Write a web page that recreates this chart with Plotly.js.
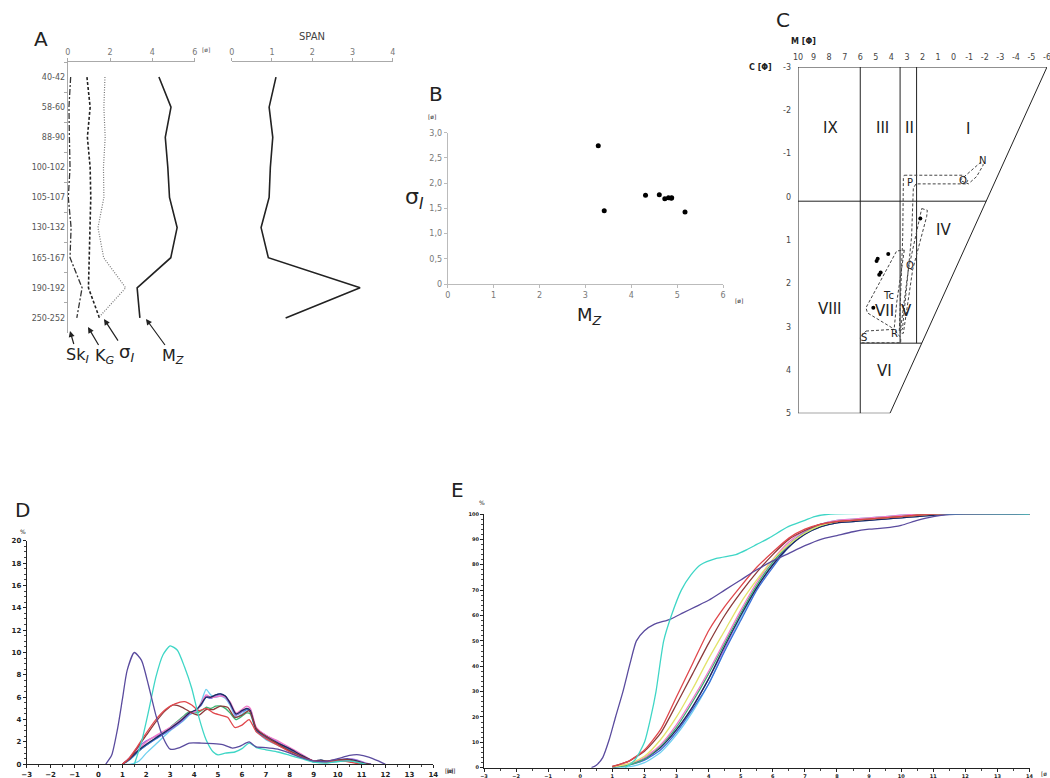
<!DOCTYPE html>
<html><head><meta charset="utf-8">
<script src="https://cdn.plot.ly/plotly-3.0.1.min.js"></script>
<style>body{margin:0;background:#fff}#c{width:1050px;height:778px}</style>
</head><body><div id="c"></div>
<script>
// ---------- DATA ----------
// Panel A / B
const depths = ['40-42','58-60','88-90','100-102','105-107','130-132','165-167','190-192','250-252'];
const Mz    = [4.31, 4.88, 4.61, 4.73, 4.81, 5.17, 4.87, 3.28, 3.41];
const sigmaI= [1.76, 1.71, 1.77, 1.69, 1.71, 1.43, 1.70, 2.74, 1.45];
const KG    = [0.91, 1.06, 0.93, 1.06, 1.09, 1.06, 1.02, 0.98, 1.50];
const SkI   = [0.14, 0.06, 0.08, 0.11, 0.03, 0.16, 0.11, 0.68, 0.43];
const span  = [1.10, 0.93, 1.02, 0.96, 0.93, 0.73, 0.91, 3.19, 1.34];
const bYticks = [0,0.5,1,1.5,2,2.5,3];
const bYtext  = ['0','0,5','1,0','1,5','2,0','2,5','3,0'];

// Panel C (CM diagram)
const cmTicksM = [10,9,8,7,6,5,4,3,2,1,0,-1,-2,-3,-4,-5,-6];
const cmTicksC = [-3,-2,-1,0,1,2,3,4,5];
const frameM = [10,-6,4.09,10,10,null,6,6,null,3.44,3.44,null,2.38,2.38,null,10,-2.09,null,6,2.04];
const frameC = [-3,-3,5,5,-3,null,-3,5,null,-3,3.38,null,-3,3.38,null,0.1,0.1,null,3.38,3.38];
const polyNO_M = [-0.41,-1.27,-1.74,-1.91,-1.48,-0.95,-0.41];
const polyNO_C = [-0.38,-0.64,-0.80,-0.74,-0.47,-0.30,-0.38];
const polyP_M = [3.17,-0.63,-0.90,-0.80,2.42,2.59,2.70,3.29,3.49,3.27,3.23,3.17];
const polyP_C = [-0.50,-0.50,-0.38,-0.30,-0.30,-0.20,0.91,3.06,3.10,0.91,-0.43,-0.50];
const polyQ_M = [2.05,1.69,1.73,2.63,3.23,3.44,2.91,2.20,2.05];
const polyQ_C = [0.27,0.31,0.45,1.68,3.15,3.15,1.68,0.45,0.27];
const polyTc_M = [3.17,3.66,3.81,3.98,5.54,5.63,3.66,3.17];
const polyTc_C = [1.23,2.45,3.01,3.02,2.68,2.56,1.25,1.23];
const polySR_M = [5.63,3.83,3.40,3.40,5.91,6.01,5.63];
const polySR_C = [3.10,3.06,3.25,3.37,3.37,3.25,3.10];
const cmM = [4.88, 4.95, 4.20, 4.69, 4.78, 5.16, 2.14];
const cmC = [1.43, 1.48, 1.32, 1.75, 1.80, 2.56, 0.50];
const regionNames = ['IX','III','II','I','IV','VIII','VII','V','VI'];
const regionM = [7.9, 4.56, 2.85, -0.9, 0.62, 7.94, 4.47, 3.01, 4.41];
const regionC = [-1.6, -1.6, -1.6, -1.57, 0.76, 2.6, 2.64, 2.64, 4.02];
const fieldNames = ['N','O','P','Q','Tc','R','S'];
const fieldM = [-1.84, -0.62, 2.8, 2.8, 4.2, 3.83, 5.76];
const fieldC = [-0.83, -0.38, -0.33, 1.59, 2.29, 3.15, 3.25];

// Panel D (frequency curves, %)
const dX_purple = [0.3,0.55,0.8,1.0,1.2,1.5,1.8,2.1,2.4,2.7,3.0,3.4,3.8,4.3,4.8,5.2,5.6,5.9,6.3,6.6,7.0,7.5,8.0,8.5,9.0,9.5,10.0,10.5,10.9,11.3,11.7,12.0];
const dY_purple = [0,0.8,3.2,5.8,8.4,10.0,9.3,7.0,4.4,2.4,1.35,1.5,1.9,1.9,1.85,1.75,1.45,1.6,2.0,1.55,1.5,1.35,1.0,0.6,0.3,0.25,0.5,0.8,0.85,0.65,0.3,0];
const dX_cyan = [1.5,1.8,2.1,2.4,2.7,3.0,3.3,3.6,3.9,4.2,4.5,4.8,5.0,5.3,5.7,6.0,6.3,6.6,7.0,7.5,8.0,8.5,9.0,9.5,10.0,10.5,11.0,11.2];
const dY_cyan = [0,2.0,4.8,7.8,9.8,10.6,10.2,8.7,6.8,4.2,2.2,1.1,0.85,1.0,1.1,1.4,1.9,1.5,1.3,1.1,0.8,0.5,0.2,0.1,0.25,0.3,0.1,0];
const dX_red = [1.0,1.3,1.6,2.0,2.4,2.8,3.2,3.6,3.9,4.2,4.5,4.8,5.1,5.4,5.7,6.0,6.3,6.6,7.0,7.5,8.0,8.5,9.0,9.5,10.0,10.5,11.0];
const dY_red = [0,0.6,1.5,2.8,4.0,4.9,5.4,5.6,5.3,4.8,5.0,4.6,4.4,4.2,3.3,3.5,4.0,2.9,2.3,1.7,1.1,0.6,0.3,0.2,0.3,0.2,0];
const dX_brown = [1.0,1.3,1.6,2.0,2.4,2.8,3.1,3.5,3.9,4.2,4.5,4.8,5.1,5.4,5.7,6.0,6.3,6.6,7.0,7.5,8.0,8.5,9.0,9.5,10.0,10.5,11.0,11.3];
const dY_brown = [0,0.5,1.4,2.6,3.8,4.8,5.3,5.1,4.6,4.4,4.9,4.9,5.2,5.1,4.2,4.4,4.8,3.2,2.5,1.8,1.2,0.7,0.3,0.3,0.4,0.4,0.1,0];
const dX_cl = [1.0,1.3,1.7,2.0,2.5,3.0,3.5,3.8,4.1,4.3,4.5,4.7,4.9,5.1,5.3,5.5,5.75,6.0,6.2,6.35,6.6,7.0,7.5,8.0,8.5,9.0,9.3,9.6,10.0,10.4,10.8,11.2,11.4];
const dY_navy   = [0,0.5,1.3,1.8,2.5,3.2,4.0,4.6,4.9,5.4,6.0,6.0,6.2,6.3,6.1,5.5,4.5,4.8,5.0,4.8,3.1,2.5,1.9,1.4,0.8,0.3,0.4,0.2,0.35,0.45,0.3,0.05,0];
const dY_pink   = [0,0.5,1.4,2.0,2.7,3.3,4.1,4.6,4.8,5.5,6.2,6.0,6.0,6.1,6.0,5.6,4.6,4.9,5.2,5.0,3.3,2.6,2.1,1.5,0.9,0.3,0.3,0.2,0.3,0.4,0.3,0.05,0];
const dY_violet = [0,0.6,1.6,2.1,2.6,3.1,3.9,4.5,4.8,5.4,6.1,5.9,6.1,6.2,6.0,5.4,4.4,4.7,5.0,4.9,3.2,2.6,2.0,1.4,0.8,0.25,0.3,0.3,0.4,0.5,0.4,0.1,0];
const dY_blue   = [0,0.4,1.2,1.7,2.4,3.1,3.9,4.5,4.9,5.3,6.0,5.9,6.2,6.3,6.1,5.5,4.4,4.7,4.9,4.7,3.0,2.4,1.9,1.3,0.8,0.3,0.3,0.2,0.3,0.4,0.3,0.05,0];
const dY_lcyan  = [0,0,0.3,1.0,2.0,3.0,3.8,4.4,4.8,5.6,6.7,6.2,6.0,6.1,5.9,5.3,4.2,4.5,4.9,4.7,3.0,2.2,1.7,1.2,0.7,0.2,0.2,0.15,0.25,0.3,0.2,0,0];
const dY_green  = [0,0.4,1.2,1.7,2.5,3.3,4.2,4.7,4.6,4.8,5.1,5.0,5.2,5.2,5.0,4.6,4.0,4.3,4.6,4.5,3.0,2.4,1.8,1.3,0.7,0.2,0.3,0.2,0.3,0.3,0.2,0,0];

// Panel E (cumulative curves, %)
const eX_purple = [0.35,0.5,0.7,0.9,1.1,1.33,1.55,1.75,2.0,2.3,2.8,3.2,3.6,4.0,4.5,5.0,5.5,6.0,6.5,7.0,7.5,8.0,8.5,9.0,9.5,10.0,10.5,11.0,11.5,12.0,14.0];
const eY_purple = [0,1,4,11,20,30,41,50,54,56.5,58.5,61,63.5,66,70,74,78,81.5,84.5,87.5,90,91.5,93,94,94.5,95.5,97.5,99,99.8,100,100];
const eX_cyan = [1.4,1.7,2.0,2.2,2.36,2.6,2.84,3.15,3.45,3.75,4.24,4.85,5.2,5.5,5.88,6.48,7.0,7.3,7.8,14.0];
const eY_cyan = [0,3,10,20,30,50,60,70,76,80,82.5,84,86,88,90.5,95,97.5,99,100,100];
const eX = [1.0,1.5,2.0,2.5,3.0,3.5,4.0,4.5,5.0,5.5,6.0,6.5,7.0,7.5,8.0,8.5,9.0,9.5,10.0,10.5,11.0,11.5,12.0,14.0];
const eY_red    = [0.5,2.5,7,15,28,41,54,63.5,71.5,79,85,90.5,94,96,97,97.5,98,98.5,99,99.5,100,100,100,100];
const eY_brown  = [0.5,2.5,6.5,13.5,25,37,49,60,69,77,84,90,93.5,96,97,97.5,98,98.5,99,99.5,100,100,100,100];
const eY_yellow = [0.3,1.5,4.5,11,20,31,43,54,65,74,82,88,92.5,95.5,97,97.5,98,98.5,99,99.5,100,100,100,100];
const eY_pink   = [0.3,1.5,4,9,17,27,38,50,62,73,82,89,93.5,96,97.5,98,98.5,99,99.5,100,100,100,100,100];
const eY_green  = [0.2,1,3.5,8.5,16,26,37,49,61,72,81,88,92.5,95.5,97,97.5,98,98.5,99,99.5,100,100,100,100];
const eY_navy   = [0.3,1.3,3.5,8,15,24,35,48,60,71,80,87,92,95,96.5,97,97.5,98,98.5,99,99.5,100,100,100];
const eY_violet = [0.2,1.2,3.5,8,15,24,35,47,60,71,80,88,93,95.5,97,97.5,98,98.5,99,99.5,100,100,100,100];
const eY_blue   = [0.2,1,3,7,14,23,33,46,58,70,79,87,92,95,96.5,97,97.5,98,98.5,99,99.5,100,100,100];
const eY_lcyan  = [0,0.3,2,6,13,22,33,46,59,71,80,88,93,96,97.5,98,98.5,99,99.5,100,100,100,100,100];

// ---------- STYLE / LAYOUT ----------
const W = 1050, H = 778;
const dx = (a,b) => [a/W, b/W];
const dy = (top,bottom) => [1-bottom/H, 1-top/H];
const COL = {purple:'#5a4b9e', cyan:'#3fd6c6', red:'#e0474c', brown:'#8c3b3b', yellow:'#e3e36a',
  pink:'#f07ac8', green:'#3cb371', navy:'#1f2a5a', violet:'#a070e0', blue:'#3a6fd8', lcyan:'#6fd0f0'};
const FF = 'DejaVu Sans, sans-serif';

const traces = [];
// Panel A
traces.push({x:SkI, y:depths, xaxis:'x', yaxis:'y', mode:'lines', line:{color:'#333', width:1.3, dash:'6px,2px,2px,2px'}});
traces.push({x:KG, y:depths, xaxis:'x', yaxis:'y', mode:'lines', line:{color:'#222', width:1.6, dash:'3px,2px'}});
traces.push({x:sigmaI, y:depths, xaxis:'x', yaxis:'y', mode:'lines', line:{color:'#777', width:1.2, dash:'1px,1.5px'}});
traces.push({x:Mz, y:depths, xaxis:'x', yaxis:'y', mode:'lines', line:{color:'#222', width:1.6}});
traces.push({x:span, y:depths, xaxis:'x2', yaxis:'y2', mode:'lines', line:{color:'#222', width:1.6}});
// Panel B
traces.push({x:Mz, y:sigmaI, xaxis:'x3', yaxis:'y3', mode:'markers', marker:{color:'#000', size:5}});
// Panel C
traces.push({x:frameM, y:frameC, xaxis:'x4', yaxis:'y4', mode:'lines', line:{color:'#222', width:1}, connectgaps:false});
[[polyNO_M,polyNO_C],[polyP_M,polyP_C],[polyQ_M,polyQ_C],[polyTc_M,polyTc_C],[polySR_M,polySR_C]].forEach(p=>{
  traces.push({x:p[0], y:p[1], xaxis:'x4', yaxis:'y4', mode:'lines', line:{color:'#444', width:1, dash:'3px,2px'}});
});
traces.push({x:cmM, y:cmC, xaxis:'x4', yaxis:'y4', mode:'markers', marker:{color:'#000', size:4}});
// Panel D
const dSeries = [
  [dX_cl,dY_green,'green'],[dX_cl,dY_lcyan,'lcyan'],[dX_cl,dY_blue,'blue'],[dX_cl,dY_violet,'violet'],
  [dX_cl,dY_pink,'pink'],[dX_cl,dY_navy,'navy'],[dX_brown,dY_brown,'brown'],[dX_red,dY_red,'red'],
  [dX_cyan,dY_cyan,'cyan'],[dX_purple,dY_purple,'purple']];
dSeries.forEach(s=>traces.push({x:s[0], y:s[1], xaxis:'x5', yaxis:'y5', mode:'lines', line:{color:COL[s[2]], width:1.3, shape:'spline', smoothing:0.6}}));
// Panel E
const eSeries = [
  [eX,eY_lcyan,'lcyan'],[eX,eY_blue,'blue'],[eX,eY_violet,'violet'],[eX,eY_navy,'navy'],[eX,eY_green,'green'],
  [eX,eY_pink,'pink'],[eX,eY_yellow,'yellow'],[eX,eY_brown,'brown'],[eX,eY_red,'red'],
  [eX_purple,eY_purple,'purple'],[eX_cyan,eY_cyan,'cyan']];
eSeries.forEach(s=>traces.push({x:s[0], y:s[1], xaxis:'x6', yaxis:'y6', mode:'lines', line:{color:COL[s[2]], width:1.3, shape:'spline', smoothing:0.6}}));

const pa = (px,py,text,size,extra) => Object.assign({xref:'paper', yref:'paper', x:px/W, y:1-py/H, text:text, showarrow:false,
  xanchor:'center', yanchor:'middle', font:{family:FF, size:size, color:'#222'}}, extra||{});
// labelled arrow: head at (hx,hy), label centred at (tx,ty)
const arrowLbl = (hx,hy,tx,ty,text,size) => ({xref:'paper', yref:'paper', x:hx/W, y:1-hy/H, ax:tx-hx, ay:ty-hy, text:text, showarrow:true,
  arrowhead:2, arrowsize:1, arrowwidth:1.2, arrowcolor:'#222', standoff:0, borderpad:0, font:{family:FF, size:size, color:'#222'}});

const ann = [
  pa(41,39,'A',20), pa(206,50,'[ø]',6,{font:{family:FF,size:6,color:'#555'}}), pa(312,36,'SPAN',10,{font:{family:FF,size:10,color:'#444'}}),
  arrowLbl(70,331,77,355,'Sk<sub><i>I</i></sub>',16), arrowLbl(88,327,105,356,'K<sub><i>G</i></sub>',16),
  arrowLbl(104,319,126,353,'σ<sub><i>I</i></sub>',18), arrowLbl(146,319,173,356,'M<sub><i>Z</i></sub>',16),
  pa(436,94,'B',20), pa(432,117,'[ø]',6,{font:{family:FF,size:6,color:'#333'}}), pa(739,300,'[ø]',6,{font:{family:FF,size:6,color:'#333'}}),
  pa(589,316,'M<sub><i>Z</i></sub>',18), pa(414,199,'σ<sub><i>I</i></sub>',22),
  pa(783,20,'C',20), pa(803,41,'<b>M [Φ]</b>',8), pa(760,67,'<b>C [Φ]</b>',8),
  pa(22,510,'D',20), pa(23,531,'%',6), pa(451,770,'[ø]',6),
  pa(457,490,'E',20), pa(482,502,'%',6), pa(449,770,'[ø]',6), pa(1044,773,'[ø',6)
];
regionNames.forEach((t,i)=>ann.push({xref:'x4', yref:'y4', x:regionM[i], y:regionC[i], text:t, showarrow:false, font:{family:FF,size:15,color:'#222'}}));
fieldNames.forEach((t,i)=>ann.push({xref:'x4', yref:'y4', x:fieldM[i], y:fieldC[i], text:t, showarrow:false, font:{family:FF,size:10,color:'#222'}}));

const noGrid = {showgrid:false, zeroline:false, fixedrange:true};
const layout = {
  width:W, height:H, margin:{l:0,r:0,t:0,b:0}, paper_bgcolor:'#fff', plot_bgcolor:'rgba(0,0,0,0)', showlegend:false,
  font:{family:FF, color:'#333'},
  xaxis:Object.assign({domain:dx(67.7,194.7), range:[0,6], side:'top', anchor:'y', tickvals:[0,2,4,6], showline:true, linecolor:'#aaa',
    ticks:'outside', ticklen:3, tickcolor:'#aaa', tickfont:{size:8,color:'#777'}}, noGrid),
  yaxis:Object.assign({domain:dy(62,333), type:'category', range:[8.5,-0.5], anchor:'x', showline:true, linecolor:'#aaa',
    ticks:'outside', tickson:'boundaries', ticklen:3, tickcolor:'#aaa', tickfont:{size:8,color:'#555'}}, noGrid),
  xaxis2:Object.assign({domain:dx(231.7,392.7), range:[0,4], side:'top', anchor:'y2', dtick:1, showline:true, linecolor:'#aaa',
    ticks:'outside', ticklen:3, tickcolor:'#aaa', tickfont:{size:8,color:'#777'}}, noGrid),
  yaxis2:Object.assign({domain:dy(62,333), type:'category', range:[8.5,-0.5], anchor:'x2', visible:false}, noGrid),
  xaxis3:Object.assign({domain:dx(447.7,723.1), range:[0,6], anchor:'y3', dtick:1, showline:true, linecolor:'#bbb',
    ticks:'outside', ticklen:3, tickcolor:'#bbb', tickfont:{size:8,color:'#777'}}, noGrid),
  yaxis3:Object.assign({domain:dy(132.7,284), range:[0,3], anchor:'x3', tickvals:bYticks, ticktext:bYtext, showline:true, linecolor:'#bbb',
    ticks:'outside', ticklen:3, tickcolor:'#bbb', tickfont:{size:8,color:'#777'}}, noGrid),
  xaxis4:Object.assign({domain:dx(798,1047), range:[10,-6], side:'top', anchor:'y4', tickvals:cmTicksM, ticktext:cmTicksM.map(String),
    showline:false, ticks:'', ticklabelstandoff:4, ticklabeloverflow:'allow', tickfont:{size:8,color:'#444'}}, noGrid),
  yaxis4:Object.assign({domain:dy(67,413.3), range:[5,-3], anchor:'x4', tickvals:cmTicksC, ticktext:cmTicksC.map(String), showline:false, ticks:'',
    ticklabelstandoff:6, tickfont:{size:8,color:'#444'}}, noGrid),
  xaxis5:Object.assign({domain:dx(26.7,433.3), range:[-3,14], anchor:'y5', dtick:1, showline:true, linecolor:'#222', linewidth:1,
    ticks:'outside', ticklen:3, tickcolor:'#222', minor:{dtick:0.5, ticklen:2, tickcolor:'#444'}, tickfont:{size:7,color:'#222',weight:'bold'}}, noGrid),
  yaxis5:Object.assign({domain:dy(540.7,764.3), range:[0,20], anchor:'x5', dtick:2, showline:true, linecolor:'#222', linewidth:1,
    ticks:'outside', ticklen:3, tickcolor:'#222', minor:{dtick:0.5, ticklen:2, tickcolor:'#444'}, tickfont:{size:7,color:'#222',weight:'bold'}}, noGrid),
  xaxis6:Object.assign({domain:dx(484,1029.5), range:[-3,14], anchor:'y6', dtick:1, showline:true, linecolor:'#222', linewidth:1,
    ticks:'outside', ticklen:3, tickcolor:'#222', minor:{dtick:0.5, ticklen:2, tickcolor:'#444'}, tickfont:{size:5,color:'#222',weight:'bold'}}, noGrid),
  yaxis6:Object.assign({domain:dy(514,767.7), range:[0,100], anchor:'x6', dtick:10, showline:true, linecolor:'#222', linewidth:1,
    ticks:'outside', ticklen:3, tickcolor:'#222', minor:{dtick:2, ticklen:2, tickcolor:'#444'}, tickfont:{size:5,color:'#222',weight:'bold'}}, noGrid),
  annotations:ann
};
Plotly.newPlot('c', traces, layout, {staticPlot:true, displayModeBar:false});
</script></body></html>
